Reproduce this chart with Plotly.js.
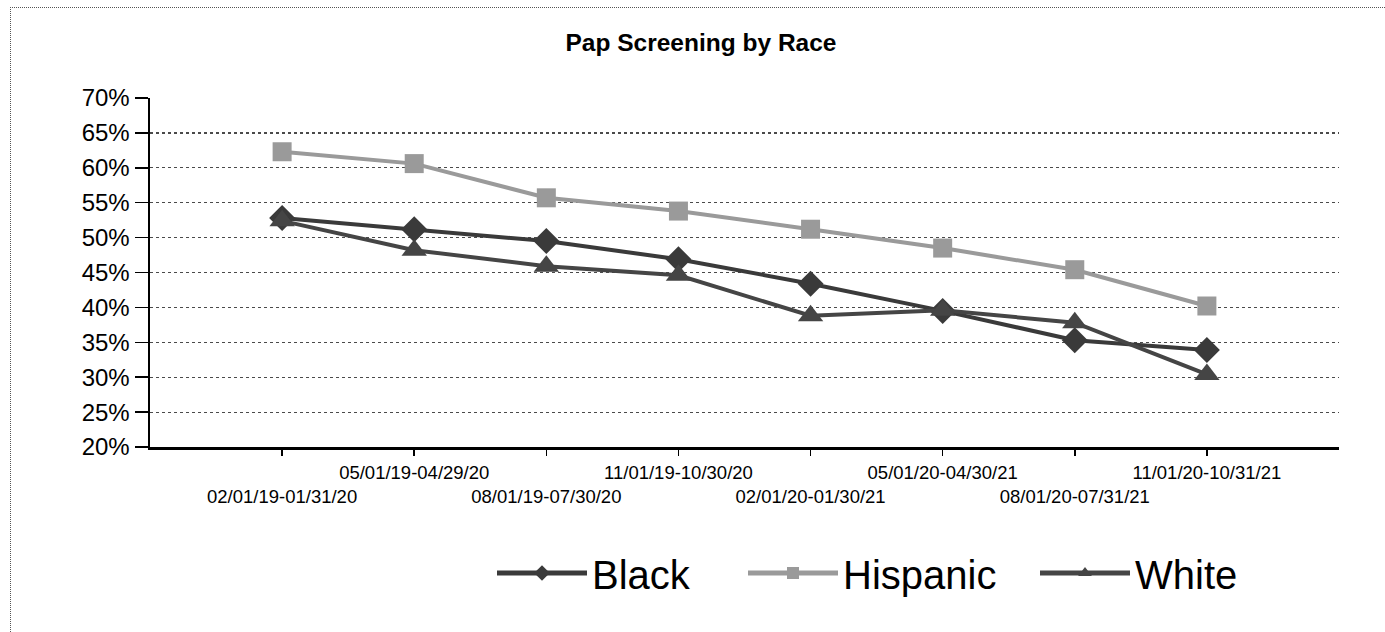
<!DOCTYPE html>
<html>
<head>
<meta charset="utf-8">
<script src="https://cdn.plot.ly/plotly-3.0.1.min.js"></script>
<style>
  html, body { margin: 0; padding: 0; background: #fff; overflow: hidden; }
  #frame { position: absolute; left: 10px; top: 7px; width: 1500px; height: 700px;
           border-left: 1px dotted #555; border-top: 1px dotted #555; }
  #chart { position: absolute; left: 0; top: 0; width: 1385px; height: 632px; }
</style>
</head>
<body>
<div id="frame"></div>
<div id="chart"></div>
<script>
const categories = [
  "02/01/19-01/31/20", "05/01/19-04/29/20", "08/01/19-07/30/20", "11/01/19-10/30/20",
  "02/01/20-01/30/21", "05/01/20-04/30/21", "08/01/20-07/31/21", "11/01/20-10/31/21"
];
const black    = [52.8, 51.2, 49.5, 46.9, 43.4, 39.5, 35.3, 33.9];
const hispanic = [62.3, 60.6, 55.7, 53.8, 51.2, 48.5, 45.4, 40.2];
const white    = [52.4, 48.2, 45.9, 44.6, 38.8, 39.6, 37.8, 30.4];
const yTicks   = [20, 25, 30, 35, 40, 45, 50, 55, 60, 65, 70];

// staggered labels: even positions on the lower row
const tickText = categories.map((c, i) => (i % 2 === 0 ? " <br>" + c : c));

const FONT = "Liberation Sans, Arial, sans-serif";

const traces = [
  { name: "Black", x: categories, y: black, type: "scatter", mode: "lines+markers",
    legend: "legend",
    line: { color: "#3a3a3a", width: 4 },
    marker: { symbol: "diamond", size: 20, color: "#3a3a3a" } },
  { name: "Hispanic", x: categories, y: hispanic, type: "scatter", mode: "lines+markers",
    legend: "legend2",
    line: { color: "#9a9a9a", width: 4 },
    marker: { symbol: "square", size: 19, color: "#9a9a9a" } },
  { name: "White", x: categories, y: white, type: "scatter", mode: "lines+markers",
    legend: "legend3",
    line: { color: "#454545", width: 4 },
    marker: { symbol: "triangle-up", size: 22, color: "#454545" } }
];

const legendY = (447 - 573) / 349;
function legendAt(px) {
  return {
    orientation: "h", x: (px - 150) / 1189, xanchor: "left",
    y: legendY, yanchor: "middle",
    font: { family: FONT, size: 40, color: "#000" },
    itemwidth: 90, itemsizing: "constant", bgcolor: "rgba(0,0,0,0)"
  };
}

const layout = {
  width: 1385, height: 632,
  paper_bgcolor: "rgba(0,0,0,0)", plot_bgcolor: "rgba(0,0,0,0)",
  margin: { l: 150, r: 46, t: 98, b: 185 },
  font: { family: FONT, color: "#000" },
  title: { text: "Pap Screening by Race", xref: "container", x: 701 / 1385, xanchor: "center",
           yref: "container", y: 1 - 42 / 632, yanchor: "middle",
           font: { family: FONT, size: 24.5, weight: "bold", color: "#000" } },
  xaxis: {
    type: "category", range: [-1, 8],
    tickmode: "array", tickvals: categories, ticktext: tickText,
    ticks: "outside", ticklen: 6, tickwidth: 1.5, tickcolor: "#000",
    tickangle: 0, tickfont: { family: FONT, size: 18.5, color: "#000" },
    ticklabelstandoff: 1,
    showline: true, linecolor: "#000", linewidth: 2.5,
    showgrid: false, zeroline: false
  },
  yaxis: {
    range: [20, 70], tickmode: "array", tickvals: yTicks,
    ticktext: yTicks.map(v => v + "%"),
    ticks: "outside", ticklen: 13, tickwidth: 1.5, tickcolor: "#000",
    tickfont: { family: FONT, size: 24, color: "#000" },
    showline: true, linecolor: "#000", linewidth: 2.5,
    showgrid: true, gridcolor: "#4a4a4a", gridwidth: 1.2, griddash: "dot",
    zeroline: false
  },
  showlegend: true,
  legend: legendAt(492),
  legend2: legendAt(743),
  legend3: legendAt(1035)
};

Plotly.newPlot("chart", traces, layout, { displayModeBar: false, staticPlot: true });
</script>
</body>
</html>
